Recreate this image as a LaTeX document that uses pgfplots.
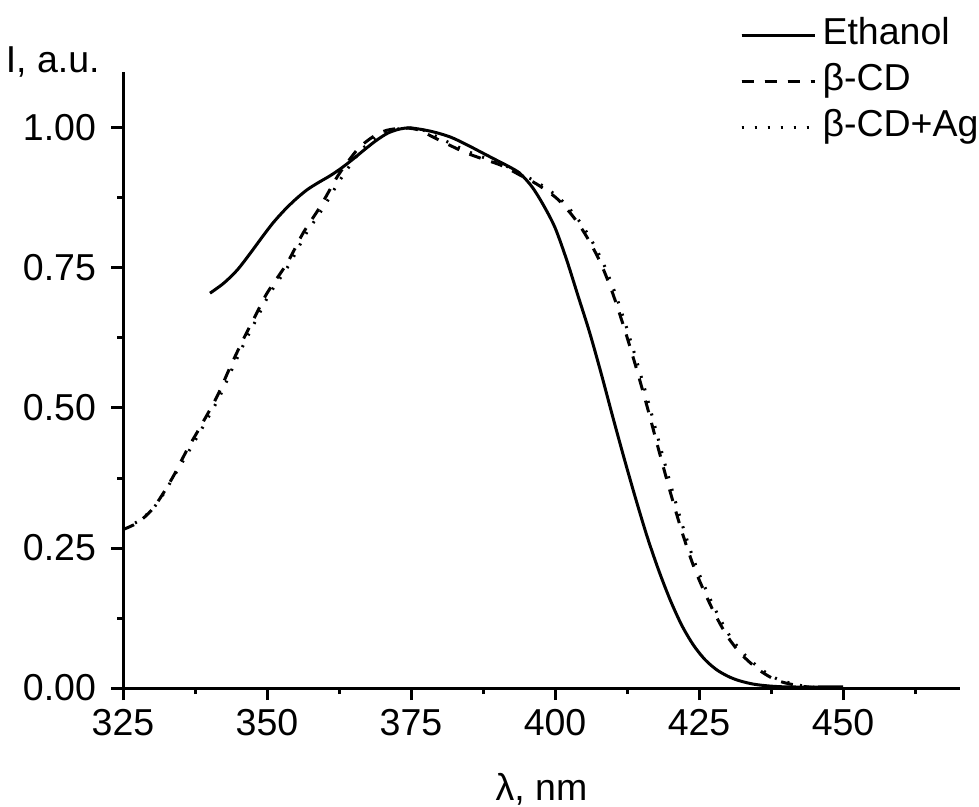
\documentclass[border=0pt]{standalone}
\usepackage{fontspec}
\setmainfont{Liberation Sans}
\usepackage{pgfplots}
\pgfplotsset{compat=1.18}

\pgfplotstableread{
x y
340.1 0.705
342.5 0.723
344.8 0.746
347.0 0.775
349.0 0.803
351.0 0.830
353.0 0.853
355.0 0.873
357.0 0.890
359.0 0.903
361.0 0.915
363.0 0.929
365.0 0.945
367.0 0.962
369.0 0.978
371.0 0.991
373.0 0.998
375.0 1.000
378.5 0.994
381.8 0.984
384.7 0.970
387.5 0.955
390.5 0.939
392.0 0.931
393.9 0.919
396.0 0.895
398.0 0.862
400.0 0.822
402.0 0.765
404.0 0.700
406.0 0.635
408.0 0.562
410.0 0.485
412.0 0.410
414.0 0.338
416.0 0.270
418.0 0.210
420.0 0.157
422.0 0.112
424.0 0.077
426.0 0.051
428.0 0.033
430.0 0.021
432.0 0.013
435.0 0.006
440.0 0.002
450.0 0.002
}\ethanol

\pgfplotstableread{
x y
325.0 0.283
327.5 0.295
330.0 0.318
332.0 0.348
334.0 0.383
336.1 0.425
338.4 0.466
341.3 0.520
343.6 0.573
345.8 0.621
348.0 0.665
350.0 0.705
353.5 0.759
356.3 0.813
359.2 0.859
362.2 0.913
364.2 0.942
366.1 0.966
368.5 0.985
370.8 0.996
374.0 1.000
376.5 0.996
378.8 0.984
384.7 0.955
390.5 0.934
393.9 0.916
396.8 0.900
400.0 0.877
402.0 0.856
404.0 0.830
406.0 0.797
408.0 0.757
410.0 0.705
412.0 0.643
414.0 0.575
416.0 0.502
418.0 0.425
420.0 0.350
422.0 0.280
424.0 0.219
426.0 0.170
428.0 0.127
430.0 0.091
432.0 0.064
434.0 0.044
436.0 0.028
438.0 0.016
440.0 0.009
443.0 0.003
446.0 0.000
}\bcd

\pgfplotstableread{
x y
325.0 0.286
327.5 0.297
330.0 0.318
332.0 0.346
334.0 0.381
336.5 0.424
338.8 0.465
341.7 0.519
344.0 0.571
346.2 0.619
348.4 0.663
350.4 0.703
353.9 0.757
356.7 0.810
359.6 0.855
362.6 0.906
364.6 0.936
366.5 0.962
368.9 0.983
371.2 0.995
374.4 1.000
376.9 0.997
379.2 0.986
385.1 0.957
390.9 0.935
394.3 0.917
397.2 0.901
400.4 0.878
402.4 0.857
404.4 0.831
406.4 0.798
408.4 0.758
410.4 0.706
412.4 0.644
414.4 0.576
416.4 0.503
418.4 0.426
420.4 0.351
422.4 0.281
424.4 0.220
426.4 0.171
428.4 0.128
430.4 0.092
432.4 0.065
434.4 0.045
436.4 0.029
438.4 0.017
440.4 0.010
443.4 0.003
446.5 0.000
}\bcdag

\begin{document}
\begin{tikzpicture}
\begin{axis}[
  scale only axis,
  width=418.5bp, height=308bp,
  xmin=325, xmax=470.3,
  ymin=0, ymax=1.1,
  axis x line=bottom, axis y line=left,
  axis line style={-, line width=1.5bp},
  tick align=outside,
  tick style={line width=1.5bp, black},
  major tick length=6bp, minor tick length=3bp,
  xtick={325,350,375,400,425,450},
  minor xtick={337.5,362.5,387.5,412.5,437.5,462.5},
  ytick={0,0.25,0.5,0.75,1},
  minor ytick={0.125,0.375,0.625,0.875},
  yticklabel style={/pgf/number format/fixed, /pgf/number format/fixed zerofill, /pgf/number format/precision=2},
  /pgf/number format/assume math mode=true,
  ticklabel style={font=\fontsize{18.75bp}{22bp}\selectfont},
  xticklabel style={yshift=-1bp},
  yticklabel style={xshift=-4bp},
  label style={font=\fontsize{18.75bp}{22bp}\selectfont},
  xlabel={λ, nm},
  xlabel style={at={(rel axis cs:0.5,0)}, anchor=north, yshift=-39bp},
  ylabel={I, a.u.},
  ylabel style={rotate=-90, at={(rel axis cs:0,1.016)}, anchor=east, inner sep=0pt, xshift=-11.5bp},
  legend style={at={(rel axis cs:0.7372,1.0958)}, anchor=north west, draw=none, fill=none,
    inner sep=0pt, outer sep=0pt, font=\fontsize{18.75bp}{22bp}\selectfont,
    nodes={inner xsep=3.25bp, inner ysep=0pt, text height=16bp, text depth=7bp}},
  legend cell align=left,
  legend image code/.code={\path (0bp,0bp) -- (36.5bp,0bp); \draw[#1] (0bp,0bp) -- (34.5bp,0bp);},
]
\addplot[black, line width=1.5bp, smooth] table[x=x, y=y] {\ethanol};
\addlegendentry{Ethanol}
\addplot[black, line width=1.5bp, smooth, dash pattern=on 6bp off 5.5bp] table[x=x, y=y] {\bcd};
\addlegendentry{β-CD}
\addplot[black, line width=1.5bp, smooth, dash pattern=on 1bp off 5.5bp] table[x=x, y=y] {\bcdag};
\addlegendentry{β-CD+Ag}
\end{axis}
\pgfresetboundingbox
\path[use as bounding box] (-61.5bp,-59.5bp) rectangle (428bp,344bp);
\end{tikzpicture}
\end{document}
